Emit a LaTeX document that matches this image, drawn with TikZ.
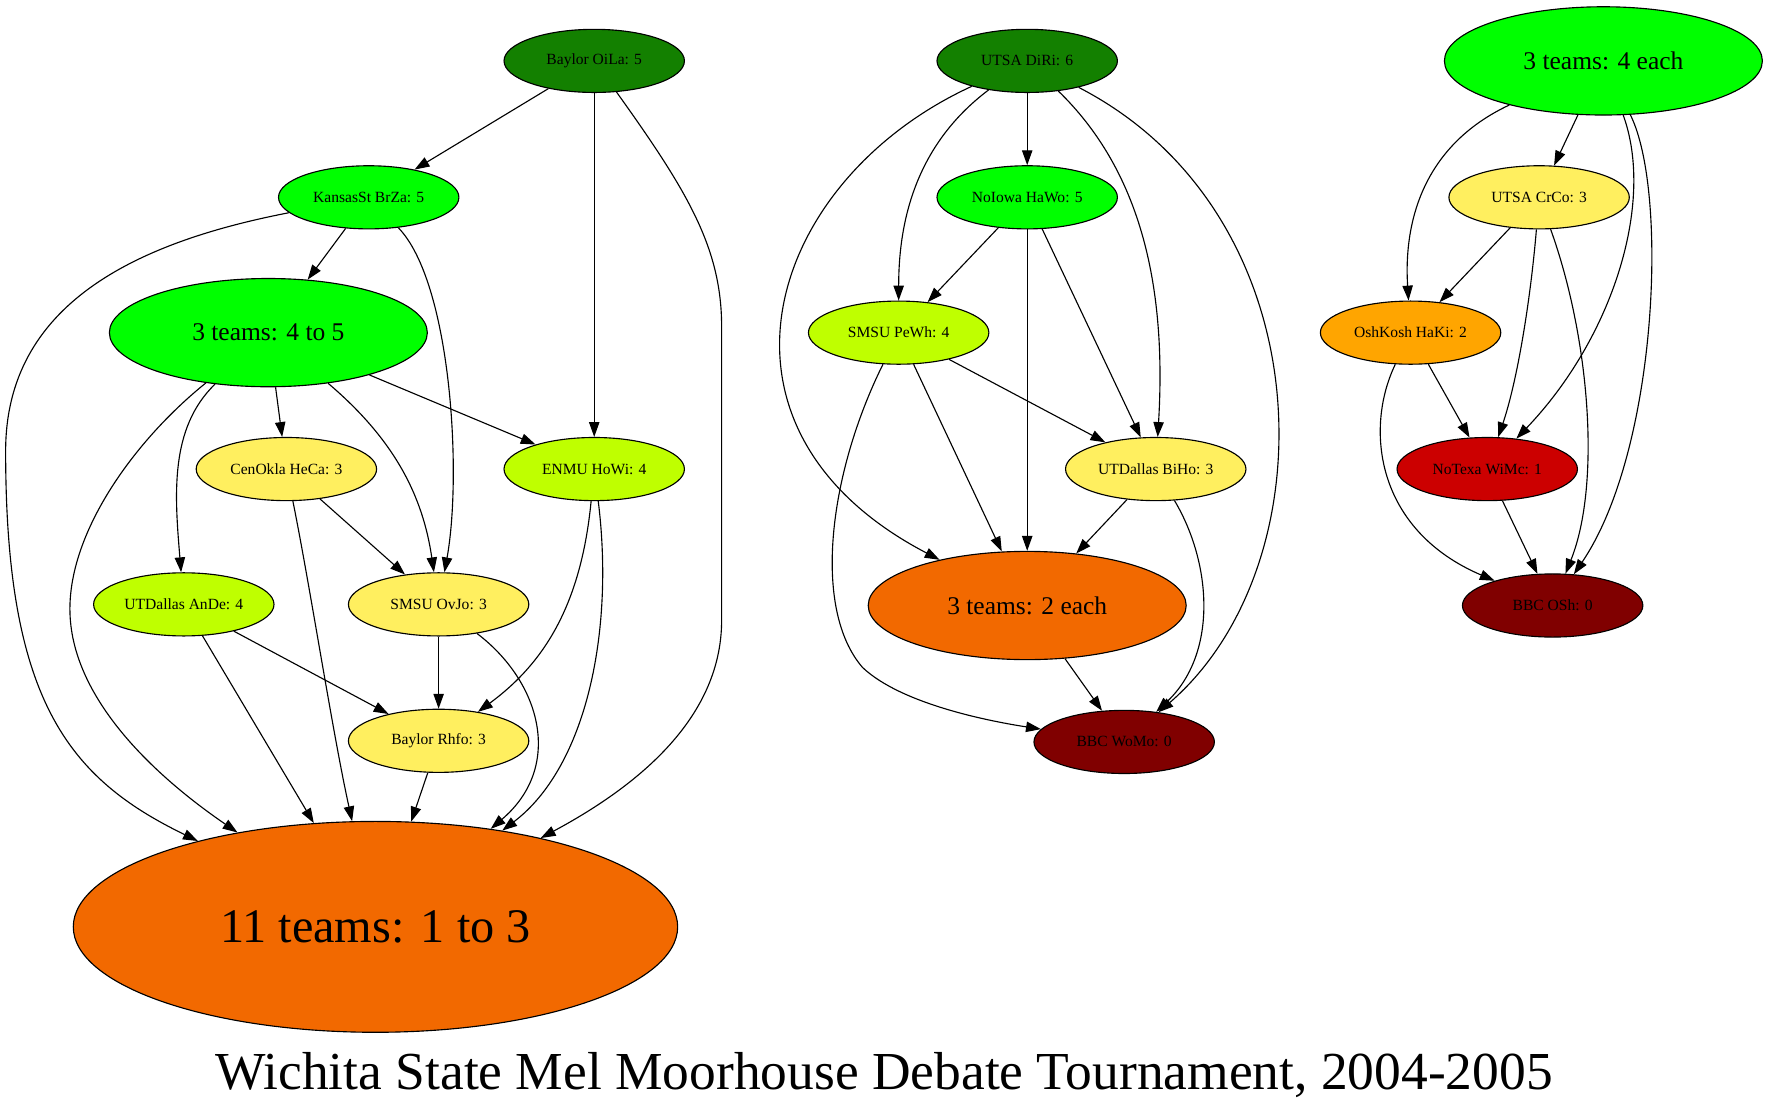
\documentclass[tikz,border=0pt]{standalone}
\usepackage{fontspec}
\setmainfont{Liberation Serif}
\usepackage{tikz}
\usetikzlibrary{arrows, arrows.meta}
\usetikzlibrary{shapes.geometric}
\definecolor{deepgreen}{HTML}{138000}
\definecolor{brightgreen}{HTML}{00FF00}
\definecolor{limegreen}{HTML}{BFFF00}
\definecolor{paleyellow}{HTML}{FFEF5F}
\definecolor{burntorange}{HTML}{F26900}
\definecolor{goldorange}{HTML}{FFA500}
\definecolor{brightred}{HTML}{CC0000}
\definecolor{maroon}{HTML}{800000}
\tikzset{
    team/.style={ellipse, draw=black, line width=0.5pt, inner sep=0pt,
        minimum width=80pt, minimum height=28pt, font=\fontsize{6.9}{8}\selectfont},
    group/.style={team, minimum width=141pt, minimum height=48pt,
        font=\fontsize{11.3}{13}\selectfont},
    biggroup/.style={team, minimum width=268pt, minimum height=93.5pt,
        font=\fontsize{21.4}{25}\selectfont},
    link/.style={draw=black, line width=0.5pt, -{Triangle[length=6.6pt, width=4.6pt]}}
}

\begin{document}
\begin{tikzpicture}[x=0.5pt, y=-0.5pt]
    \useasboundingbox (0,0) rectangle (1568,985);
    \coordinate (vertexOiLa) at (527,54);
    \coordinate (vertexBrZa) at (327,175);
    \coordinate (vertexFourToFive) at (238,295);
    \coordinate (vertexHeCa) at (254,416);
    \coordinate (vertexHoWi) at (527,416);
    \coordinate (vertexAnDe) at (163,536);
    \coordinate (vertexOvJo) at (389,536);
    \coordinate (vertexRhfo) at (389,657);
    \coordinate (vertexOneToThree) at (333,822);
    \coordinate (vertexDiRi) at (911,54);
    \coordinate (vertexHaWo) at (911,175);
    \coordinate (vertexPeWh) at (797,295);
    \coordinate (vertexBiHo) at (1025,416);
    \coordinate (vertexTwoEach) at (911,537);
    \coordinate (vertexWoMo) at (997,658);
    \coordinate (vertexFourEach) at (1422,54);
    \coordinate (vertexCrCo) at (1365,175);
    \coordinate (vertexHaKi) at (1251,295);
    \coordinate (vertexWiMc) at (1319,416);
    \coordinate (vertexOSh) at (1377,537);
    %
    \node[team, fill=deepgreen] at (vertexOiLa) (nodeOiLa) {Baylor OiLa: 5};
    \node[team, fill=brightgreen] at (vertexBrZa) (nodeBrZa) {KansasSt BrZa: 5};
    \node[group, fill=brightgreen] at (vertexFourToFive) (nodeFourToFive) {3 teams: 4 to 5};
    \node[team, fill=paleyellow] at (vertexHeCa) (nodeHeCa) {CenOkla HeCa: 3};
    \node[team, fill=limegreen] at (vertexHoWi) (nodeHoWi) {ENMU HoWi: 4};
    \node[team, fill=limegreen] at (vertexAnDe) (nodeAnDe) {UTDallas AnDe: 4};
    \node[team, fill=paleyellow] at (vertexOvJo) (nodeOvJo) {SMSU OvJo: 3};
    \node[team, fill=paleyellow] at (vertexRhfo) (nodeRhfo) {Baylor Rhfo: 3};
    \node[biggroup, fill=burntorange] at (vertexOneToThree) (nodeOneToThree) {11 teams: 1 to 3};
    \node[team, fill=deepgreen] at (vertexDiRi) (nodeDiRi) {UTSA DiRi: 6};
    \node[team, fill=brightgreen] at (vertexHaWo) (nodeHaWo) {NoIowa HaWo: 5};
    \node[team, fill=limegreen] at (vertexPeWh) (nodePeWh) {SMSU PeWh: 4};
    \node[team, fill=paleyellow] at (vertexBiHo) (nodeBiHo) {UTDallas BiHo: 3};
    \node[group, fill=burntorange] at (vertexTwoEach) (nodeTwoEach) {3 teams: 2 each};
    \node[team, fill=maroon] at (vertexWoMo) (nodeWoMo) {BBC WoMo: 0};
    \node[group, fill=brightgreen] at (vertexFourEach) (nodeFourEach) {3 teams: 4 each};
    \node[team, fill=paleyellow] at (vertexCrCo) (nodeCrCo) {UTSA CrCo: 3};
    \node[team, fill=goldorange] at (vertexHaKi) (nodeHaKi) {OshKosh HaKi: 2};
    \node[team, fill=brightred] at (vertexWiMc) (nodeWiMc) {NoTexa WiMc: 1};
    \node[team, fill=maroon] at (vertexOSh) (nodeOSh) {BBC OSh: 0};
    \node[anchor=base, font=\fontsize{23.7}{28}\selectfont] at (784,966) (nodeTitle)
        {Wichita State Mel Moorhouse Debate Tournament, 2004-2005};
    %
    \draw[link] (nodeOiLa) -- (nodeBrZa);
    \draw[link] (nodeOiLa) -- (nodeHoWi);
    \draw[link] (nodeOiLa) .. controls (610,170) and (640,220) .. (640,290) -- (640,550)
        .. controls (640,640) and (560,700) .. (nodeOneToThree);
    \draw[link] (nodeBrZa) -- (nodeFourToFive);
    \draw[link] (nodeBrZa) .. controls (400,250) and (410,420) .. (nodeOvJo);
    \draw[link] (nodeBrZa) .. controls (120,215) and (5,270) .. (5,400)
        .. controls (5,620) and (60,690) .. (nodeOneToThree);
    \draw[link] (nodeFourToFive) -- (nodeHeCa);
    \draw[link] (nodeFourToFive) -- (nodeHoWi);
    \draw[link] (nodeFourToFive) .. controls (150,380) and (155,440) .. (nodeAnDe);
    \draw[link] (nodeFourToFive) .. controls (350,390) and (375,440) .. (nodeOvJo);
    \draw[link] (nodeFourToFive) .. controls (120,390) and (62,470) .. (62,540)
        .. controls (62,620) and (140,690) .. (nodeOneToThree);
    \draw[link] (nodeHeCa) -- (nodeOvJo);
    \draw[link] (nodeHeCa) .. controls (275,520) and (295,650) .. (nodeOneToThree);
    \draw[link] (nodeHoWi) .. controls (515,540) and (480,590) .. (nodeRhfo);
    \draw[link] (nodeHoWi) .. controls (545,560) and (520,680) .. (nodeOneToThree);
    \draw[link] (nodeAnDe) -- (nodeRhfo);
    \draw[link] (nodeAnDe) -- (nodeOneToThree);
    \draw[link] (nodeOvJo) -- (nodeRhfo);
    \draw[link] (nodeOvJo) .. controls (480,605) and (500,680) .. (nodeOneToThree);
    \draw[link] (nodeRhfo) -- (nodeOneToThree);
    %
    \draw[link] (nodeDiRi) -- (nodeHaWo);
    \draw[link] (nodeDiRi) .. controls (810,130) and (797,200) .. (nodePeWh);
    \draw[link] (nodeDiRi) .. controls (1010,150) and (1035,250) .. (nodeBiHo);
    \draw[link] (nodeDiRi) .. controls (680,160) and (610,380) .. (nodeTwoEach);
    \draw[link] (nodeDiRi) .. controls (1175,190) and (1180,500) .. (nodeWoMo);
    \draw[link] (nodeHaWo) -- (nodePeWh);
    \draw[link] (nodeHaWo) -- (nodeTwoEach);
    \draw[link] (nodeHaWo) -- (nodeBiHo);
    \draw[link] (nodePeWh) -- (nodeBiHo);
    \draw[link] (nodePeWh) -- (nodeTwoEach);
    \draw[link] (nodePeWh) .. controls (735,420) and (720,540) .. (765,592)
        .. controls (800,625) and (880,640) .. (nodeWoMo);
    \draw[link] (nodeBiHo) -- (nodeTwoEach);
    \draw[link] (nodeBiHo) .. controls (1075,500) and (1080,580) .. (nodeWoMo);
    \draw[link] (nodeTwoEach) -- (nodeWoMo);
    %
    \draw[link] (nodeFourEach) -- (nodeCrCo);
    \draw[link] (nodeFourEach) .. controls (1260,130) and (1245,200) .. (nodeHaKi);
    \draw[link] (nodeFourEach) .. controls (1468,180) and (1430,300) .. (nodeWiMc);
    \draw[link] (nodeFourEach) .. controls (1480,170) and (1470,400) .. (nodeOSh);
    \draw[link] (nodeCrCo) -- (nodeHaKi);
    \draw[link] (nodeCrCo) .. controls (1357,270) and (1345,340) .. (nodeWiMc);
    \draw[link] (nodeCrCo) .. controls (1410,300) and (1420,430) .. (nodeOSh);
    \draw[link] (nodeHaKi) -- (nodeWiMc);
    \draw[link] (nodeHaKi) .. controls (1210,380) and (1220,470) .. (nodeOSh);
    \draw[link] (nodeWiMc) -- (nodeOSh);
\end{tikzpicture}
\end{document}
